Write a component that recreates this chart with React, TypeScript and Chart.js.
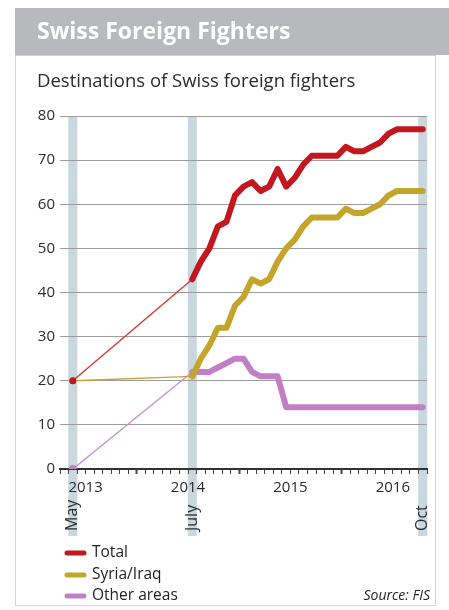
import React, { useEffect, useRef } from 'react';
import { Chart, registerables } from 'chart.js';

Chart.register(...registerables);

const FONT = '"Open Sans", "Noto Sans", sans-serif';

// ---- data ----
const startMonth = '2013-05';
const startTotal = 20;
const startSyria = 20;
const startOther = 0;

const months = [
  '2014-07', '2014-08', '2014-09', '2014-10', '2014-11', '2014-12',
  '2015-01', '2015-02', '2015-03', '2015-04', '2015-05', '2015-06',
  '2015-07', '2015-08', '2015-09', '2015-10', '2015-11', '2015-12',
  '2016-01', '2016-02', '2016-03', '2016-04', '2016-05', '2016-06',
  '2016-07', '2016-08', '2016-09', '2016-10',
];
const total = [43, 47, 50, 55, 56, 62, 64, 65, 63, 64, 68, 64, 66, 69, 71, 71, 71, 71, 73, 72, 72, 73, 74, 76, 77, 77, 77, 77];
const syriaIraq = [21, 25, 28, 32, 32, 37, 39, 43, 42, 43, 47, 50, 52, 55, 57, 57, 57, 57, 59, 58, 58, 59, 60, 62, 63, 63, 63, 63];
const otherAreas = [22, 22, 22, 23, 24, 25, 25, 22, 21, 21, 21, 14, 14, 14, 14, 14, 14, 14, 14, 14, 14, 14, 14, 14, 14, 14, 14, 14];

const yearLabels = ['2013', '2014', '2015', '2016'];
const markerMonths = ['2013-05', '2014-07', '2016-10'];
const markerLabels = ['May', 'July', 'Oct'];
const seriesNames = ['Total', 'Syria/Iraq', 'Other areas'];

const TITLE = 'Swiss Foreign Fighters';
const SUBTITLE = 'Destinations of Swiss foreign fighters';
const SOURCE = 'Source: FIS';

// ---- styles ----
const RED = '#c3161f';
const YELLOW = '#c4a52c';
const PURPLE = '#c37fc6';
const RED_THIN = '#d63b2c';
const YELLOW_THIN = '#c8a43a';
const PURPLE_THIN = '#cc90d3';
const BAND = '#c8d8de';

function monthPos(s: string): number {
  const [y, m] = s.split('-').map(Number);
  return (y - 2013) * 12 + (m - 1) + 0.5;
}

export default function App() {
  const ref = useRef<HTMLCanvasElement>(null);

  useEffect(() => {
    const canvas = ref.current!;
    const xs = months.map(monthPos);
    const mk = (arr: number[]) => arr.map((y, i) => ({ x: xs[i], y }));
    const link = (startVal: number, arr: number[]) => [
      { x: monthPos(startMonth), y: startVal },
      { x: xs[0], y: arr[0] },
    ];
    const thick = (label: string, arr: number[], color: string) => ({
      label,
      data: mk(arr),
      borderColor: color,
      backgroundColor: color,
      borderWidth: 6,
      pointRadius: 0,
      borderJoinStyle: 'round' as const,
      borderCapStyle: 'round' as const,
      tension: 0,
    });
    const thin = (label: string, data: any[], color: string, dot: string, r: number) => ({
      label,
      data,
      borderColor: color,
      backgroundColor: dot,
      borderWidth: 1.4,
      pointRadius: (c: any) => (c.dataIndex === 0 ? r : 0),
      pointBackgroundColor: dot,
      pointBorderWidth: 0,
      tension: 0,
    });

    const decor = {
      id: 'decor',
      beforeDraw(chart: any) {
        const ctx = chart.ctx;
        const x = chart.scales.x;
        const area = chart.chartArea;
        ctx.save();
        ctx.fillStyle = '#ffffff';
        ctx.fillRect(0, 0, chart.width, chart.height);
        ctx.fillStyle = BAND;
        markerMonths.forEach((m) => {
          const px = x.getPixelForValue(monthPos(m));
          ctx.fillRect(px - 4.5, area.top, 9, 536 - area.top);
        });
        ctx.restore();
      },
      afterDraw(chart: any) {
        const ctx = chart.ctx;
        const x = chart.scales.x;
        ctx.save();
        // header
        ctx.fillStyle = '#b7b9bc';
        ctx.fillRect(15, 8, 434, 47);
        ctx.fillStyle = '#ffffff';
        ctx.font = `bold 23px ${FONT}`;
        ctx.textBaseline = 'middle';
        ctx.textAlign = 'left';
        ctx.fillText(TITLE, 37, 32);
        // box border
        ctx.strokeStyle = '#d2d4d6';
        ctx.lineWidth = 1;
        ctx.strokeRect(15.5, 55.5, 420, 550);
        // subtitle
        ctx.fillStyle = '#2b2b2b';
        ctx.font = `18.5px ${FONT}`;
        ctx.fillText(SUBTITLE, 37, 82);
        // month markers (rotated)
        ctx.fillStyle = '#2b2b2b';
        ctx.font = `16px ${FONT}`;
        markerMonths.forEach((m, i) => {
          const px = x.getPixelForValue(monthPos(m));
          ctx.save();
          ctx.translate(px, 531);
          ctx.rotate(-Math.PI / 2);
          ctx.textAlign = 'left';
          ctx.textBaseline = 'middle';
          ctx.fillText(markerLabels[i], 0, 0);
          ctx.restore();
        });
        // legend
        const rows = [553, 575, 596];
        ctx.font = `15.5px ${FONT}`;
        ctx.textBaseline = 'middle';
        ctx.textAlign = 'left';
        seriesNames.forEach((name, i) => {
          const ds = chart.data.datasets[i];
          ctx.strokeStyle = ds.borderColor;
          ctx.lineWidth = 5;
          ctx.lineCap = 'round';
          ctx.beginPath();
          ctx.moveTo(67, rows[i]);
          ctx.lineTo(84, rows[i]);
          ctx.stroke();
          ctx.fillStyle = '#222222';
          ctx.fillText(name, 92, rows[i]);
        });
        // source
        ctx.font = `italic 14px ${FONT}`;
        ctx.textAlign = 'right';
        ctx.fillStyle = '#222222';
        ctx.fillText(SOURCE, 430, 596);
        ctx.restore();
      },
    };

    const chart = new Chart(canvas, {
      type: 'line',
      data: {
        datasets: [
          thick(seriesNames[0], total, RED),
          thick(seriesNames[1], syriaIraq, YELLOW),
          thick(seriesNames[2], otherAreas, PURPLE),
          thin('_t', link(startTotal, total), RED_THIN, RED, 3.5),
          thin('_s', link(startSyria, syriaIraq), YELLOW_THIN, YELLOW, 3.5),
          thin('_o', link(startOther, otherAreas), PURPLE_THIN, PURPLE, 4),
        ] as any,
      },
      options: {
        responsive: false,
        animation: false,
        devicePixelRatio: 1,
        layout: { padding: { left: 0, right: 22, top: 116, bottom: 111 } },
        plugins: {
          legend: { display: false },
          tooltip: { enabled: false },
          title: { display: false },
        },
        scales: {
          x: {
            type: 'linear',
            min: 3,
            max: 46,
            afterFit: (s: any) => {
              s.height = 30;
            },
            ticks: {
              stepSize: 1,
              autoSkip: false,
              maxRotation: 0,
              minRotation: 0,
              padding: 5,
              color: '#2b2b2b',
              font: { family: FONT, size: 15 },
              callback: (v: any) => {
                const k = Math.round(Number(v));
                return (k - 6) % 12 === 0 && k >= 6 ? yearLabels[(k - 6) / 12] : '';
              },
            },
            grid: {
              drawOnChartArea: false,
              drawTicks: true,
              tickLength: 5,
              tickColor: '#444444',
              tickWidth: (c: any) => (c.tick && Math.round(c.tick.value) % 12 === 0 ? 2 : 1),
            },
            border: { display: true, color: '#333333', width: 2 },
          },
          y: {
            min: 0,
            max: 80,
            afterFit: (s: any) => {
              s.width = 60;
            },
            ticks: {
              stepSize: 10,
              padding: 5,
              color: '#2b2b2b',
              font: { family: FONT, size: 15 },
            },
            grid: {
              color: (c: any) => (c.tick && c.tick.value === 0 ? 'rgba(0,0,0,0)' : '#9c9c9c'),
              lineWidth: 1,
              drawTicks: false,
            },
            border: { display: false },
          },
        },
      } as any,
      plugins: [decor],
    });
    return () => chart.destroy();
  }, []);

  return (
    <div style={{ position: 'fixed', left: 0, top: 0, width: 449, height: 610, background: '#fff' }}>
      <canvas ref={ref} width={449} height={610} style={{ display: 'block', width: 449, height: 610 }} />
    </div>
  );
}
